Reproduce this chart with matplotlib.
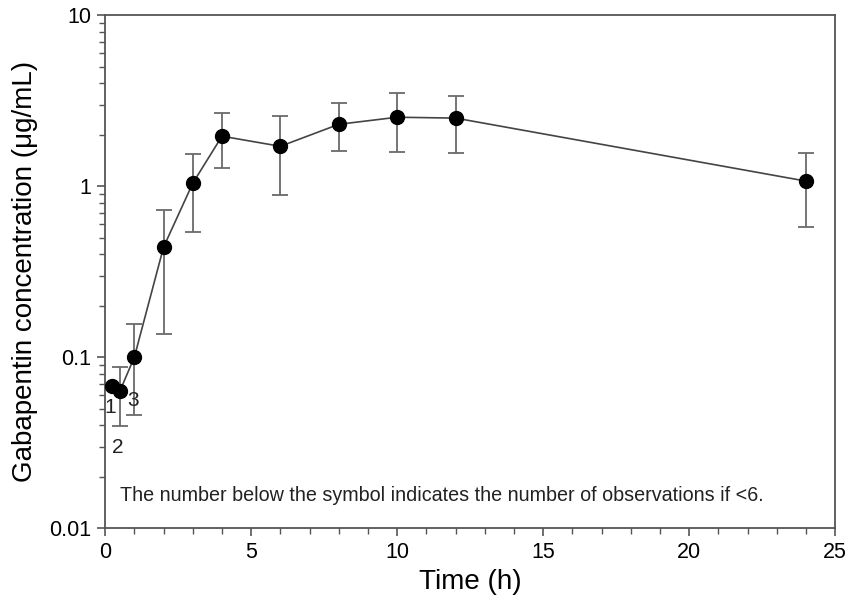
import matplotlib.pyplot as plt
from matplotlib.ticker import FixedLocator, LogLocator, MultipleLocator, NullFormatter

plt.rcParams['font.family'] = ['Liberation Sans', 'DejaVu Sans']

# mean gabapentin concentration with error bar ends
time_h = [0.25, 0.5, 1, 2, 3, 4, 6, 8, 10, 12, 24]
conc = [0.068, 0.063, 0.100, 0.44, 1.04, 1.96, 1.71, 2.30, 2.53, 2.50, 1.07]
err_hi = [0.068, 0.087, 0.156, 0.73, 1.54, 2.67, 2.57, 3.06, 3.50, 3.36, 1.56]
err_lo = [0.068, 0.0395, 0.0458, 0.136, 0.54, 1.27, 0.89, 1.60, 1.58, 1.56, 0.58]

# observation counts shown below the first symbols
n_labels = ['1', '2', '3']
n_x = [0.17, 0.44, 0.95]
n_y = [0.051, 0.0298, 0.056]

fig = plt.figure(figsize=(8.48, 6.07), dpi=100)
ax = fig.add_axes([0.124, 0.130, 0.861, 0.845])

yerr = [[c - lo for c, lo in zip(conc, err_lo)],
        [hi - c for c, hi in zip(conc, err_hi)]]
ax.errorbar(time_h, conc, yerr=yerr, fmt='none', ecolor='#6a6a6a',
            elinewidth=1.3, capsize=5.5, capthick=1.3, zorder=2)
ax.plot(time_h, conc, '-', color='#444444', lw=1.2, zorder=3)
ax.plot(time_h, conc, 'o', color='black', ms=10, zorder=4)

for lab, x, y in zip(n_labels, n_x, n_y):
    ax.text(x, y, lab, fontsize=15, ha='center', va='center', color='#222222')

ax.text(0.52, 0.0155, 'The number below the symbol indicates the number of observations if <6.',
        fontsize=14.2, color='#222222', va='center')

ax.set_yscale('log')
ax.set_xlim(0, 25)
ax.set_ylim(0.01, 10)
ax.xaxis.set_major_locator(MultipleLocator(5))
ax.xaxis.set_minor_locator(MultipleLocator(1))
ax.yaxis.set_major_locator(FixedLocator([0.01, 0.1, 1, 10]))
ax.yaxis.set_minor_locator(LogLocator(base=10, subs=range(2, 10)))
ax.yaxis.set_minor_formatter(NullFormatter())
ax.set_yticklabels(['0.01', '0.1', '1', '10'])

for side in ['left', 'bottom', 'top', 'right']:
    ax.spines[side].set_color('#555555')
    ax.spines[side].set_linewidth(1.3)

ax.tick_params(axis='both', which='major', direction='out', length=6, width=1.2,
               color='#555555', labelsize=15.5, pad=4)
ax.tick_params(axis='both', which='minor', direction='out', length=4, width=1.0,
               color='#555555')

ax.set_xlabel('Time (h)', fontsize=20, labelpad=4)
ax.set_ylabel('Gabapentin concentration (\u03bcg/mL)', fontsize=20, labelpad=8)

plt.savefig('out.png', dpi=100)
